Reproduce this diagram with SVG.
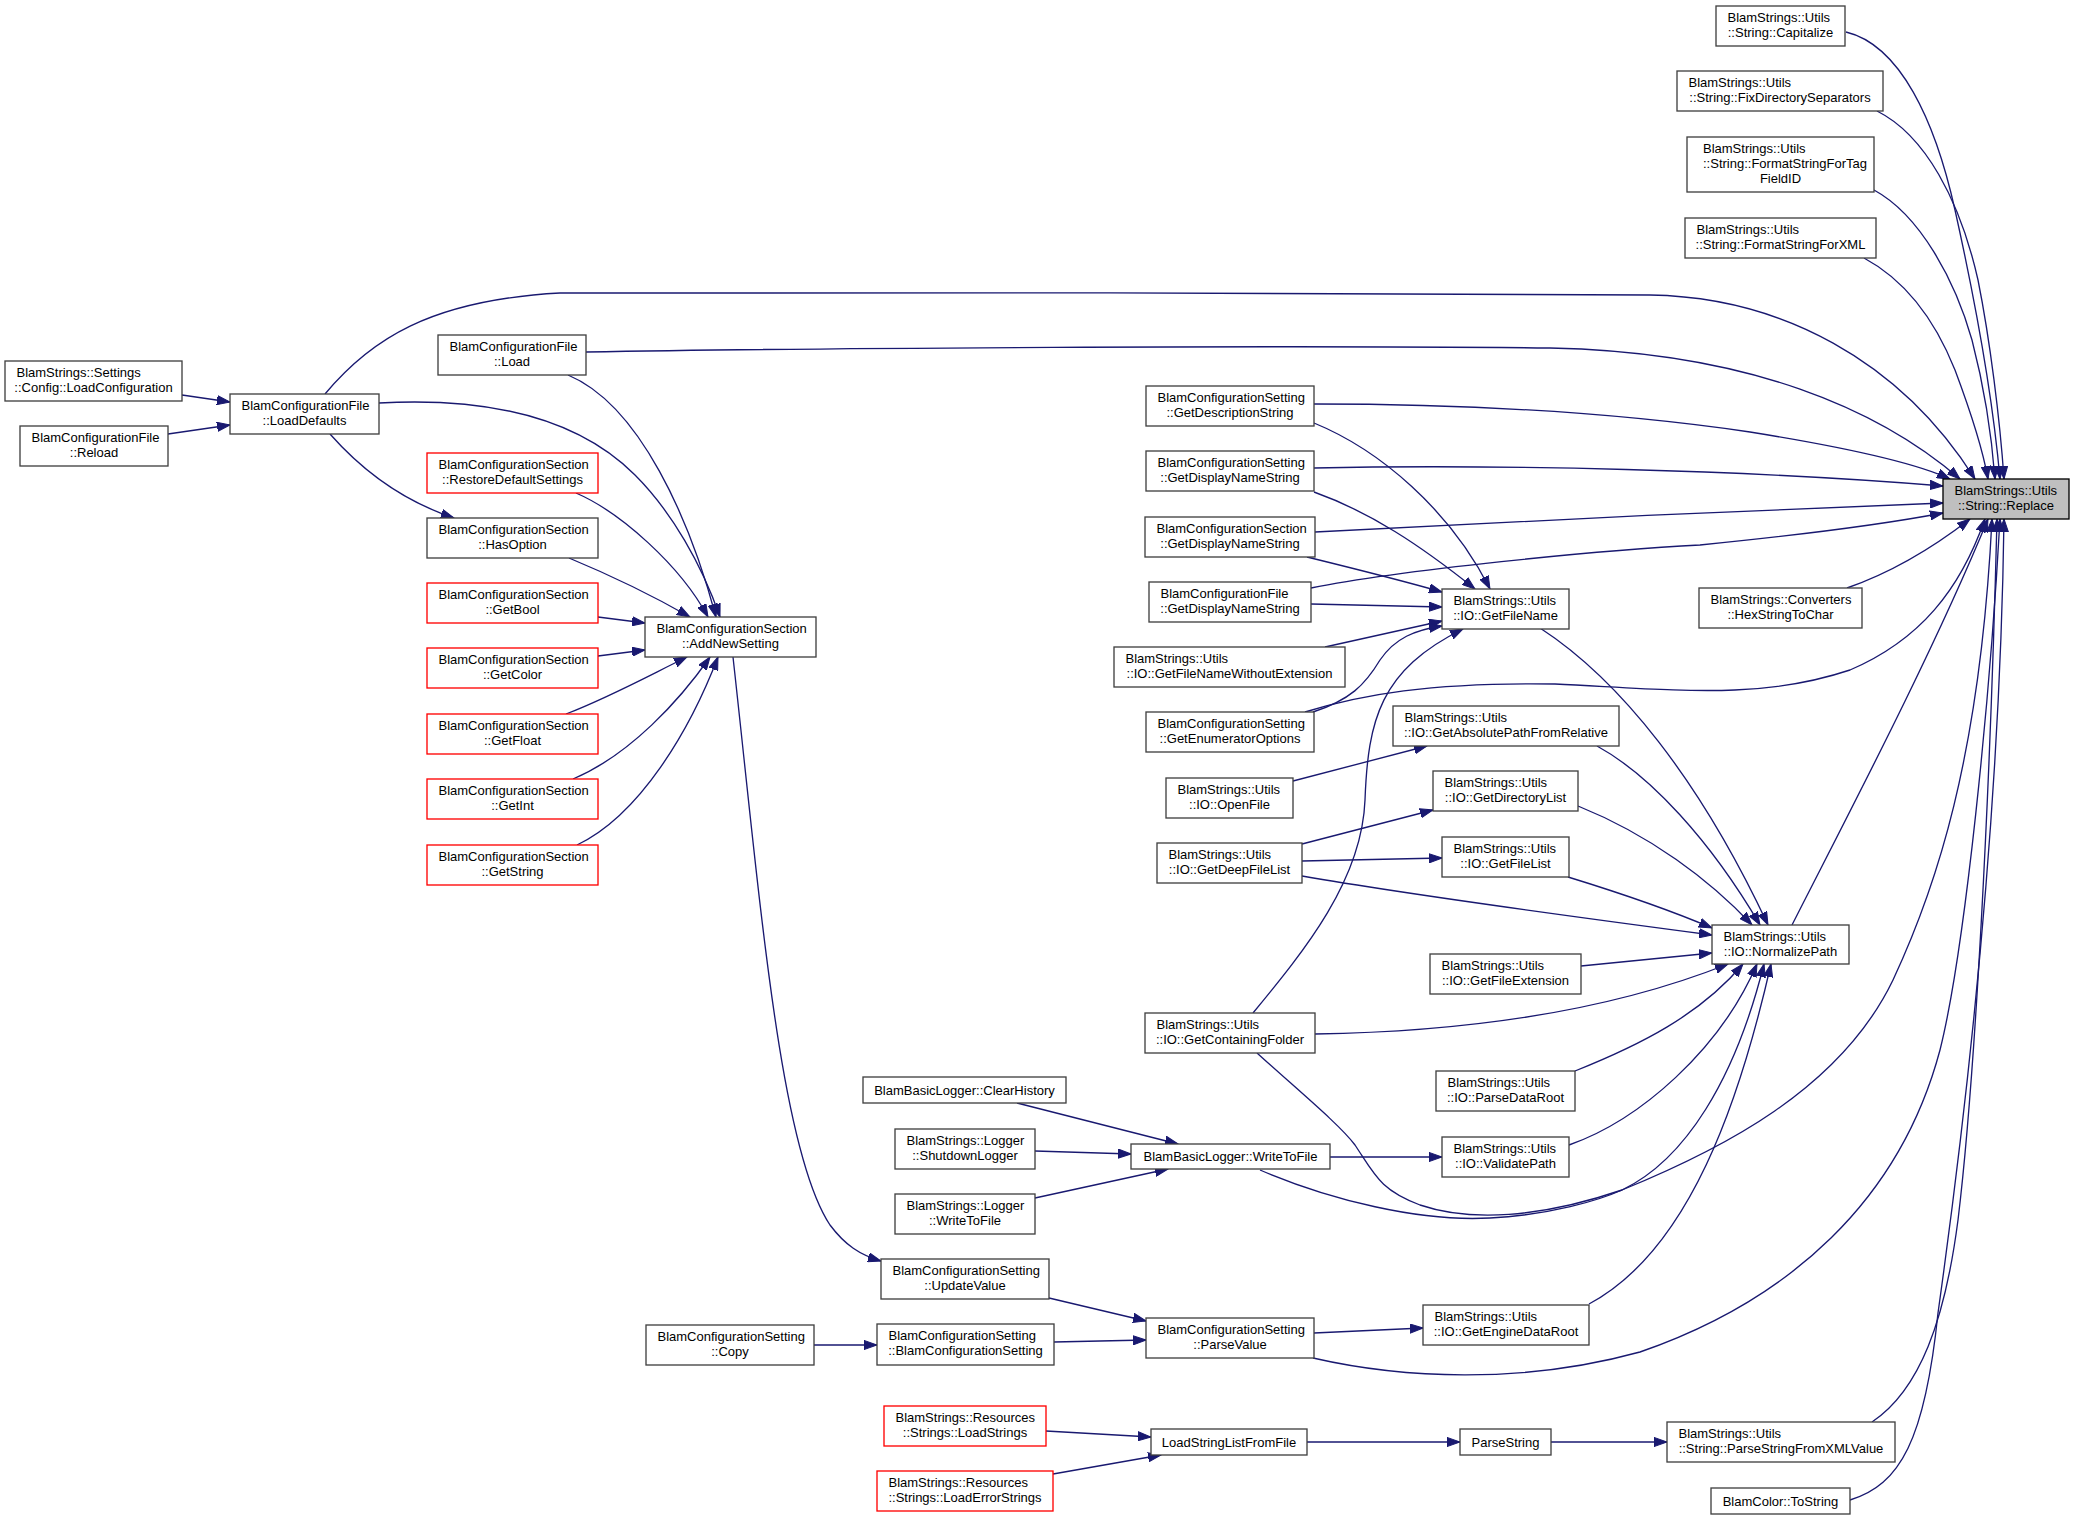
<svg xmlns="http://www.w3.org/2000/svg" width="2075" height="1519" viewBox="0 0 2075 1519">
<defs>
<style>
.node rect{fill:#ffffff;stroke:#404040;stroke-width:1.33}
.node.red rect{stroke:#ff0000}
.node.root rect{fill:#bfbfbf;stroke:#000000}
text{font-family:"Liberation Sans",Arial,Helvetica,sans-serif;font-size:13px;fill:#000000}
text.c{text-anchor:middle}
#edges path{fill:none;stroke:#191970;stroke-width:1.33;marker-end:url(#arr)}
</style>
<marker id="arr" markerUnits="userSpaceOnUse" markerWidth="14" markerHeight="10" refX="13" refY="5" orient="auto">
<path d="M0,0.4 L13,5 L0,9.6 z" fill="#191970" stroke="#191970" stroke-width="1"/>
</marker>
</defs>
<rect x="0" y="0" width="2075" height="1519" fill="#ffffff"/>
<g id="edges">
<path d="M1846,32 C1900,45 1935,120 1955,210 C1975,300 1993,400 2000,479"/>
<path d="M1877,111 C1925,135 1960,200 1978,280 C1990,340 2000,420 2004,479"/>
<path d="M1874,190 C1920,215 1955,280 1972,340 C1985,390 1992,440 1995,479"/>
<path d="M1864,258 C1905,280 1935,320 1955,370 C1970,410 1982,445 1988,479"/>
<path d="M325,394 C370,340 430,300 560,293 C800,290 1400,295 1650,295 C1780,297 1900,360 1975,479"/>
<path d="M586,352 C800,348 1300,345 1550,348 C1750,352 1880,410 1960,479"/>
<path d="M1314,404 C1450,404 1600,410 1750,432 C1850,448 1920,465 1950,479"/>
<path d="M1314,468 C1500,464 1750,470 1943,486"/>
<path d="M1315,532 C1500,522 1750,510 1943,503"/>
<path d="M1311,588 C1400,570 1600,550 1700,545 C1800,535 1880,525 1943,513"/>
<path d="M1847,588 C1890,573 1930,550 1970,519"/>
<path d="M1305,712 C1360,695 1430,682 1555,684 C1680,690 1760,700 1850,670 C1920,640 1960,590 1985,519"/>
<path d="M1792,925 C1840,830 1930,660 1988,519"/>
<path d="M1257,1053 C1300,1092 1340,1125 1355,1145 C1375,1175 1380,1190 1420,1205 C1470,1222 1540,1218 1622,1190 C1720,1150 1840,1090 1893,980 C1935,890 1980,760 1992,519"/>
<path d="M1313,1358 C1400,1378 1520,1385 1640,1352 C1790,1300 1900,1200 1940,1050 C1965,950 1990,700 2000,519"/>
<path d="M1872,1422 C1920,1390 1945,1320 1958,1220 C1975,1080 1990,800 1997,519"/>
<path d="M1850,1500 C1900,1485 1925,1440 1938,1313 C1965,1120 2000,820 2004,519"/>
<path d="M1540,628 C1620,680 1700,780 1768,925"/>
<path d="M1597,746 C1650,775 1710,840 1760,925"/>
<path d="M1578,806 C1650,835 1710,880 1752,925"/>
<path d="M1568,877 C1620,893 1670,910 1712,928"/>
<path d="M1302,876 C1400,893 1560,915 1712,935"/>
<path d="M1581,966 L1712,953"/>
<path d="M1315,1034 C1450,1032 1600,1015 1728,964"/>
<path d="M1575,1071 C1640,1045 1700,1015 1743,964"/>
<path d="M1569,1145 C1640,1120 1720,1050 1757,964"/>
<path d="M1260,1170 C1330,1200 1420,1222 1490,1218 C1550,1215 1600,1200 1622,1190 C1685,1160 1735,1080 1764,964"/>
<path d="M1589,1304 C1690,1250 1740,1100 1771,964"/>
<path d="M1314,423 C1380,450 1450,510 1490,589"/>
<path d="M1314,492 C1370,512 1420,545 1475,589"/>
<path d="M1307,557 C1360,570 1400,580 1442,592"/>
<path d="M1311,604 L1442,607"/>
<path d="M1325,647 L1442,621"/>
<path d="M1313,712 C1350,700 1365,685 1380,660 C1395,638 1415,630 1442,626"/>
<path d="M1253,1013 C1305,950 1362,880 1365,800 C1368,720 1380,670 1463,629"/>
<path d="M1293,781 L1427,746"/>
<path d="M1302,844 L1433,810"/>
<path d="M1302,861 L1442,858"/>
<path d="M1017,1103 L1178,1144"/>
<path d="M1035,1151 L1131,1154"/>
<path d="M1035,1198 L1168,1169"/>
<path d="M1330,1157 L1442,1157"/>
<path d="M1049,1298 L1146,1321"/>
<path d="M1054,1342 L1146,1340"/>
<path d="M814,1345 L877,1345"/>
<path d="M1314,1333 L1423,1328"/>
<path d="M733,657 C760,900 780,1150 830,1225 C845,1245 860,1255 881,1261"/>
<path d="M1046,1431 L1151,1437"/>
<path d="M1053,1474 L1161,1455"/>
<path d="M1307,1442 L1460,1442"/>
<path d="M1551,1442 L1667,1442"/>
<path d="M182,395 L230,402"/>
<path d="M168,434 L230,425"/>
<path d="M330,434 C360,468 400,500 454,518"/>
<path d="M379,403 C470,398 570,410 635,475 C672,512 702,565 720,617"/>
<path d="M568,375 C640,405 690,520 716,617"/>
<path d="M576,493 C620,512 680,565 708,617"/>
<path d="M569,558 C610,575 655,597 690,617"/>
<path d="M598,617 L645,623"/>
<path d="M598,656 L645,650"/>
<path d="M566,714 C610,697 650,675 687,657"/>
<path d="M573,779 C630,755 680,700 710,657"/>
<path d="M577,845 C640,815 690,730 718,657"/>
</g>
<g id="n01" class="node"><rect x="1716" y="6" width="129" height="40"/><text x="1727.5" y="22">BlamStrings::Utils</text><text class="c" x="1780.5" y="37">::String::Capitalize</text></g>
<g id="n02" class="node"><rect x="1677" y="71" width="206" height="40"/><text x="1688.5" y="87">BlamStrings::Utils</text><text class="c" x="1780" y="102">::String::FixDirectorySeparators</text></g>
<g id="n03" class="node"><rect x="1687" y="137" width="187" height="55"/><text x="1703" y="153">BlamStrings::Utils</text><text x="1703" y="168">::String::FormatStringForTag</text><text class="c" x="1780.5" y="183">FieldID</text></g>
<g id="n04" class="node"><rect x="1685" y="218" width="191" height="40"/><text x="1696.5" y="234">BlamStrings::Utils</text><text class="c" x="1780.5" y="249">::String::FormatStringForXML</text></g>
<g id="n05" class="node root"><rect x="1943" y="479" width="126" height="40"/><text x="1954.5" y="495">BlamStrings::Utils</text><text class="c" x="2006" y="510">::String::Replace</text></g>
<g id="n06" class="node"><rect x="1699" y="588" width="163" height="40"/><text x="1710.5" y="604">BlamStrings::Converters</text><text class="c" x="1780.5" y="619">::HexStringToChar</text></g>
<g id="n07" class="node"><rect x="1712" y="925" width="137" height="39"/><text x="1723.5" y="941">BlamStrings::Utils</text><text class="c" x="1780.5" y="956">::IO::NormalizePath</text></g>
<g id="n08" class="node"><rect x="1667" y="1422" width="228" height="40"/><text x="1678.5" y="1438">BlamStrings::Utils</text><text class="c" x="1781" y="1453">::String::ParseStringFromXMLValue</text></g>
<g id="n09" class="node"><rect x="1711" y="1488" width="139" height="26"/><text class="c" x="1780.5" y="1505.5">BlamColor::ToString</text></g>
<g id="n10" class="node"><rect x="1442" y="589" width="127" height="40"/><text x="1453.5" y="605">BlamStrings::Utils</text><text class="c" x="1505.5" y="620">::IO::GetFileName</text></g>
<g id="n11" class="node"><rect x="1393" y="706" width="226" height="40"/><text x="1404.5" y="722">BlamStrings::Utils</text><text class="c" x="1506" y="737">::IO::GetAbsolutePathFromRelative</text></g>
<g id="n12" class="node"><rect x="1433" y="771" width="145" height="40"/><text x="1444.5" y="787">BlamStrings::Utils</text><text class="c" x="1505.5" y="802">::IO::GetDirectoryList</text></g>
<g id="n13" class="node"><rect x="1442" y="837" width="127" height="40"/><text x="1453.5" y="853">BlamStrings::Utils</text><text class="c" x="1505.5" y="868">::IO::GetFileList</text></g>
<g id="n14" class="node"><rect x="1430" y="954" width="151" height="40"/><text x="1441.5" y="970">BlamStrings::Utils</text><text class="c" x="1505.5" y="985">::IO::GetFileExtension</text></g>
<g id="n15" class="node"><rect x="1436" y="1071" width="139" height="40"/><text x="1447.5" y="1087">BlamStrings::Utils</text><text class="c" x="1505.5" y="1102">::IO::ParseDataRoot</text></g>
<g id="n16" class="node"><rect x="1442" y="1137" width="127" height="40"/><text x="1453.5" y="1153">BlamStrings::Utils</text><text class="c" x="1505.5" y="1168">::IO::ValidatePath</text></g>
<g id="n17" class="node"><rect x="1423" y="1305" width="166" height="40"/><text x="1434.5" y="1321">BlamStrings::Utils</text><text class="c" x="1506" y="1336">::IO::GetEngineDataRoot</text></g>
<g id="n18" class="node"><rect x="1460" y="1429" width="91" height="26"/><text class="c" x="1505.5" y="1446.5">ParseString</text></g>
<g id="n19" class="node"><rect x="1146" y="386" width="168" height="40"/><text x="1157.5" y="402">BlamConfigurationSetting</text><text class="c" x="1230" y="417">::GetDescriptionString</text></g>
<g id="n20" class="node"><rect x="1146" y="451" width="168" height="40"/><text x="1157.5" y="467">BlamConfigurationSetting</text><text class="c" x="1230" y="482">::GetDisplayNameString</text></g>
<g id="n21" class="node"><rect x="1145" y="517" width="170" height="40"/><text x="1156.5" y="533">BlamConfigurationSection</text><text class="c" x="1230" y="548">::GetDisplayNameString</text></g>
<g id="n22" class="node"><rect x="1149" y="582" width="162" height="40"/><text x="1160.5" y="598">BlamConfigurationFile</text><text class="c" x="1230" y="613">::GetDisplayNameString</text></g>
<g id="n23" class="node"><rect x="1114" y="647" width="231" height="40"/><text x="1125.5" y="663">BlamStrings::Utils</text><text class="c" x="1229.5" y="678">::IO::GetFileNameWithoutExtension</text></g>
<g id="n24" class="node"><rect x="1146" y="712" width="168" height="40"/><text x="1157.5" y="728">BlamConfigurationSetting</text><text class="c" x="1230" y="743">::GetEnumeratorOptions</text></g>
<g id="n25" class="node"><rect x="1166" y="778" width="127" height="40"/><text x="1177.5" y="794">BlamStrings::Utils</text><text class="c" x="1229.5" y="809">::IO::OpenFile</text></g>
<g id="n26" class="node"><rect x="1157" y="843" width="145" height="40"/><text x="1168.5" y="859">BlamStrings::Utils</text><text class="c" x="1229.5" y="874">::IO::GetDeepFileList</text></g>
<g id="n27" class="node"><rect x="1145" y="1013" width="170" height="40"/><text x="1156.5" y="1029">BlamStrings::Utils</text><text class="c" x="1230" y="1044">::IO::GetContainingFolder</text></g>
<g id="n28" class="node"><rect x="1146" y="1318" width="168" height="40"/><text x="1157.5" y="1334">BlamConfigurationSetting</text><text class="c" x="1230" y="1349">::ParseValue</text></g>
<g id="n29" class="node"><rect x="1131" y="1144" width="199" height="25"/><text class="c" x="1230.5" y="1161">BlamBasicLogger::WriteToFile</text></g>
<g id="n30" class="node"><rect x="1151" y="1429" width="156" height="26"/><text class="c" x="1229" y="1446.5">LoadStringListFromFile</text></g>
<g id="n31" class="node"><rect x="863" y="1077" width="203" height="26"/><text class="c" x="964.5" y="1094.5">BlamBasicLogger::ClearHistory</text></g>
<g id="n32" class="node"><rect x="895" y="1129" width="140" height="40"/><text x="906.5" y="1145">BlamStrings::Logger</text><text class="c" x="965" y="1160">::ShutdownLogger</text></g>
<g id="n33" class="node"><rect x="895" y="1194" width="140" height="40"/><text x="906.5" y="1210">BlamStrings::Logger</text><text class="c" x="965" y="1225">::WriteToFile</text></g>
<g id="n34" class="node"><rect x="881" y="1259" width="168" height="40"/><text x="892.5" y="1275">BlamConfigurationSetting</text><text class="c" x="965" y="1290">::UpdateValue</text></g>
<g id="n35" class="node"><rect x="877" y="1324" width="177" height="41"/><text x="888.5" y="1340">BlamConfigurationSetting</text><text class="c" x="965.5" y="1355">::BlamConfigurationSetting</text></g>
<g id="n36" class="node red"><rect x="884" y="1406" width="162" height="40"/><text x="895.5" y="1422">BlamStrings::Resources</text><text class="c" x="965" y="1437">::Strings::LoadStrings</text></g>
<g id="n37" class="node red"><rect x="877" y="1471" width="176" height="40"/><text x="888.5" y="1487">BlamStrings::Resources</text><text class="c" x="965" y="1502">::Strings::LoadErrorStrings</text></g>
<g id="n38" class="node"><rect x="646" y="1325" width="168" height="40"/><text x="657.5" y="1341">BlamConfigurationSetting</text><text class="c" x="730" y="1356">::Copy</text></g>
<g id="n39" class="node"><rect x="645" y="617" width="171" height="40"/><text x="656.5" y="633">BlamConfigurationSection</text><text class="c" x="730.5" y="648">::AddNewSetting</text></g>
<g id="n40" class="node red"><rect x="427" y="453" width="171" height="40"/><text x="438.5" y="469">BlamConfigurationSection</text><text class="c" x="512.5" y="484">::RestoreDefaultSettings</text></g>
<g id="n41" class="node"><rect x="427" y="518" width="171" height="40"/><text x="438.5" y="534">BlamConfigurationSection</text><text class="c" x="512.5" y="549">::HasOption</text></g>
<g id="n42" class="node red"><rect x="427" y="583" width="171" height="40"/><text x="438.5" y="599">BlamConfigurationSection</text><text class="c" x="512.5" y="614">::GetBool</text></g>
<g id="n43" class="node red"><rect x="427" y="648" width="171" height="40"/><text x="438.5" y="664">BlamConfigurationSection</text><text class="c" x="512.5" y="679">::GetColor</text></g>
<g id="n44" class="node red"><rect x="427" y="714" width="171" height="40"/><text x="438.5" y="730">BlamConfigurationSection</text><text class="c" x="512.5" y="745">::GetFloat</text></g>
<g id="n45" class="node red"><rect x="427" y="779" width="171" height="40"/><text x="438.5" y="795">BlamConfigurationSection</text><text class="c" x="512.5" y="810">::GetInt</text></g>
<g id="n46" class="node red"><rect x="427" y="845" width="171" height="40"/><text x="438.5" y="861">BlamConfigurationSection</text><text class="c" x="512.5" y="876">::GetString</text></g>
<g id="n47" class="node"><rect x="438" y="335" width="148" height="40"/><text x="449.5" y="351">BlamConfigurationFile</text><text class="c" x="512" y="366">::Load</text></g>
<g id="n48" class="node"><rect x="230" y="394" width="149" height="40"/><text x="241.5" y="410">BlamConfigurationFile</text><text class="c" x="304.5" y="425">::LoadDefaults</text></g>
<g id="n49" class="node"><rect x="5" y="361" width="177" height="40"/><text x="16.5" y="377">BlamStrings::Settings</text><text class="c" x="93.5" y="392">::Config::LoadConfiguration</text></g>
<g id="n50" class="node"><rect x="20" y="426" width="148" height="40"/><text x="31.5" y="442">BlamConfigurationFile</text><text class="c" x="94" y="457">::Reload</text></g>
</svg>
